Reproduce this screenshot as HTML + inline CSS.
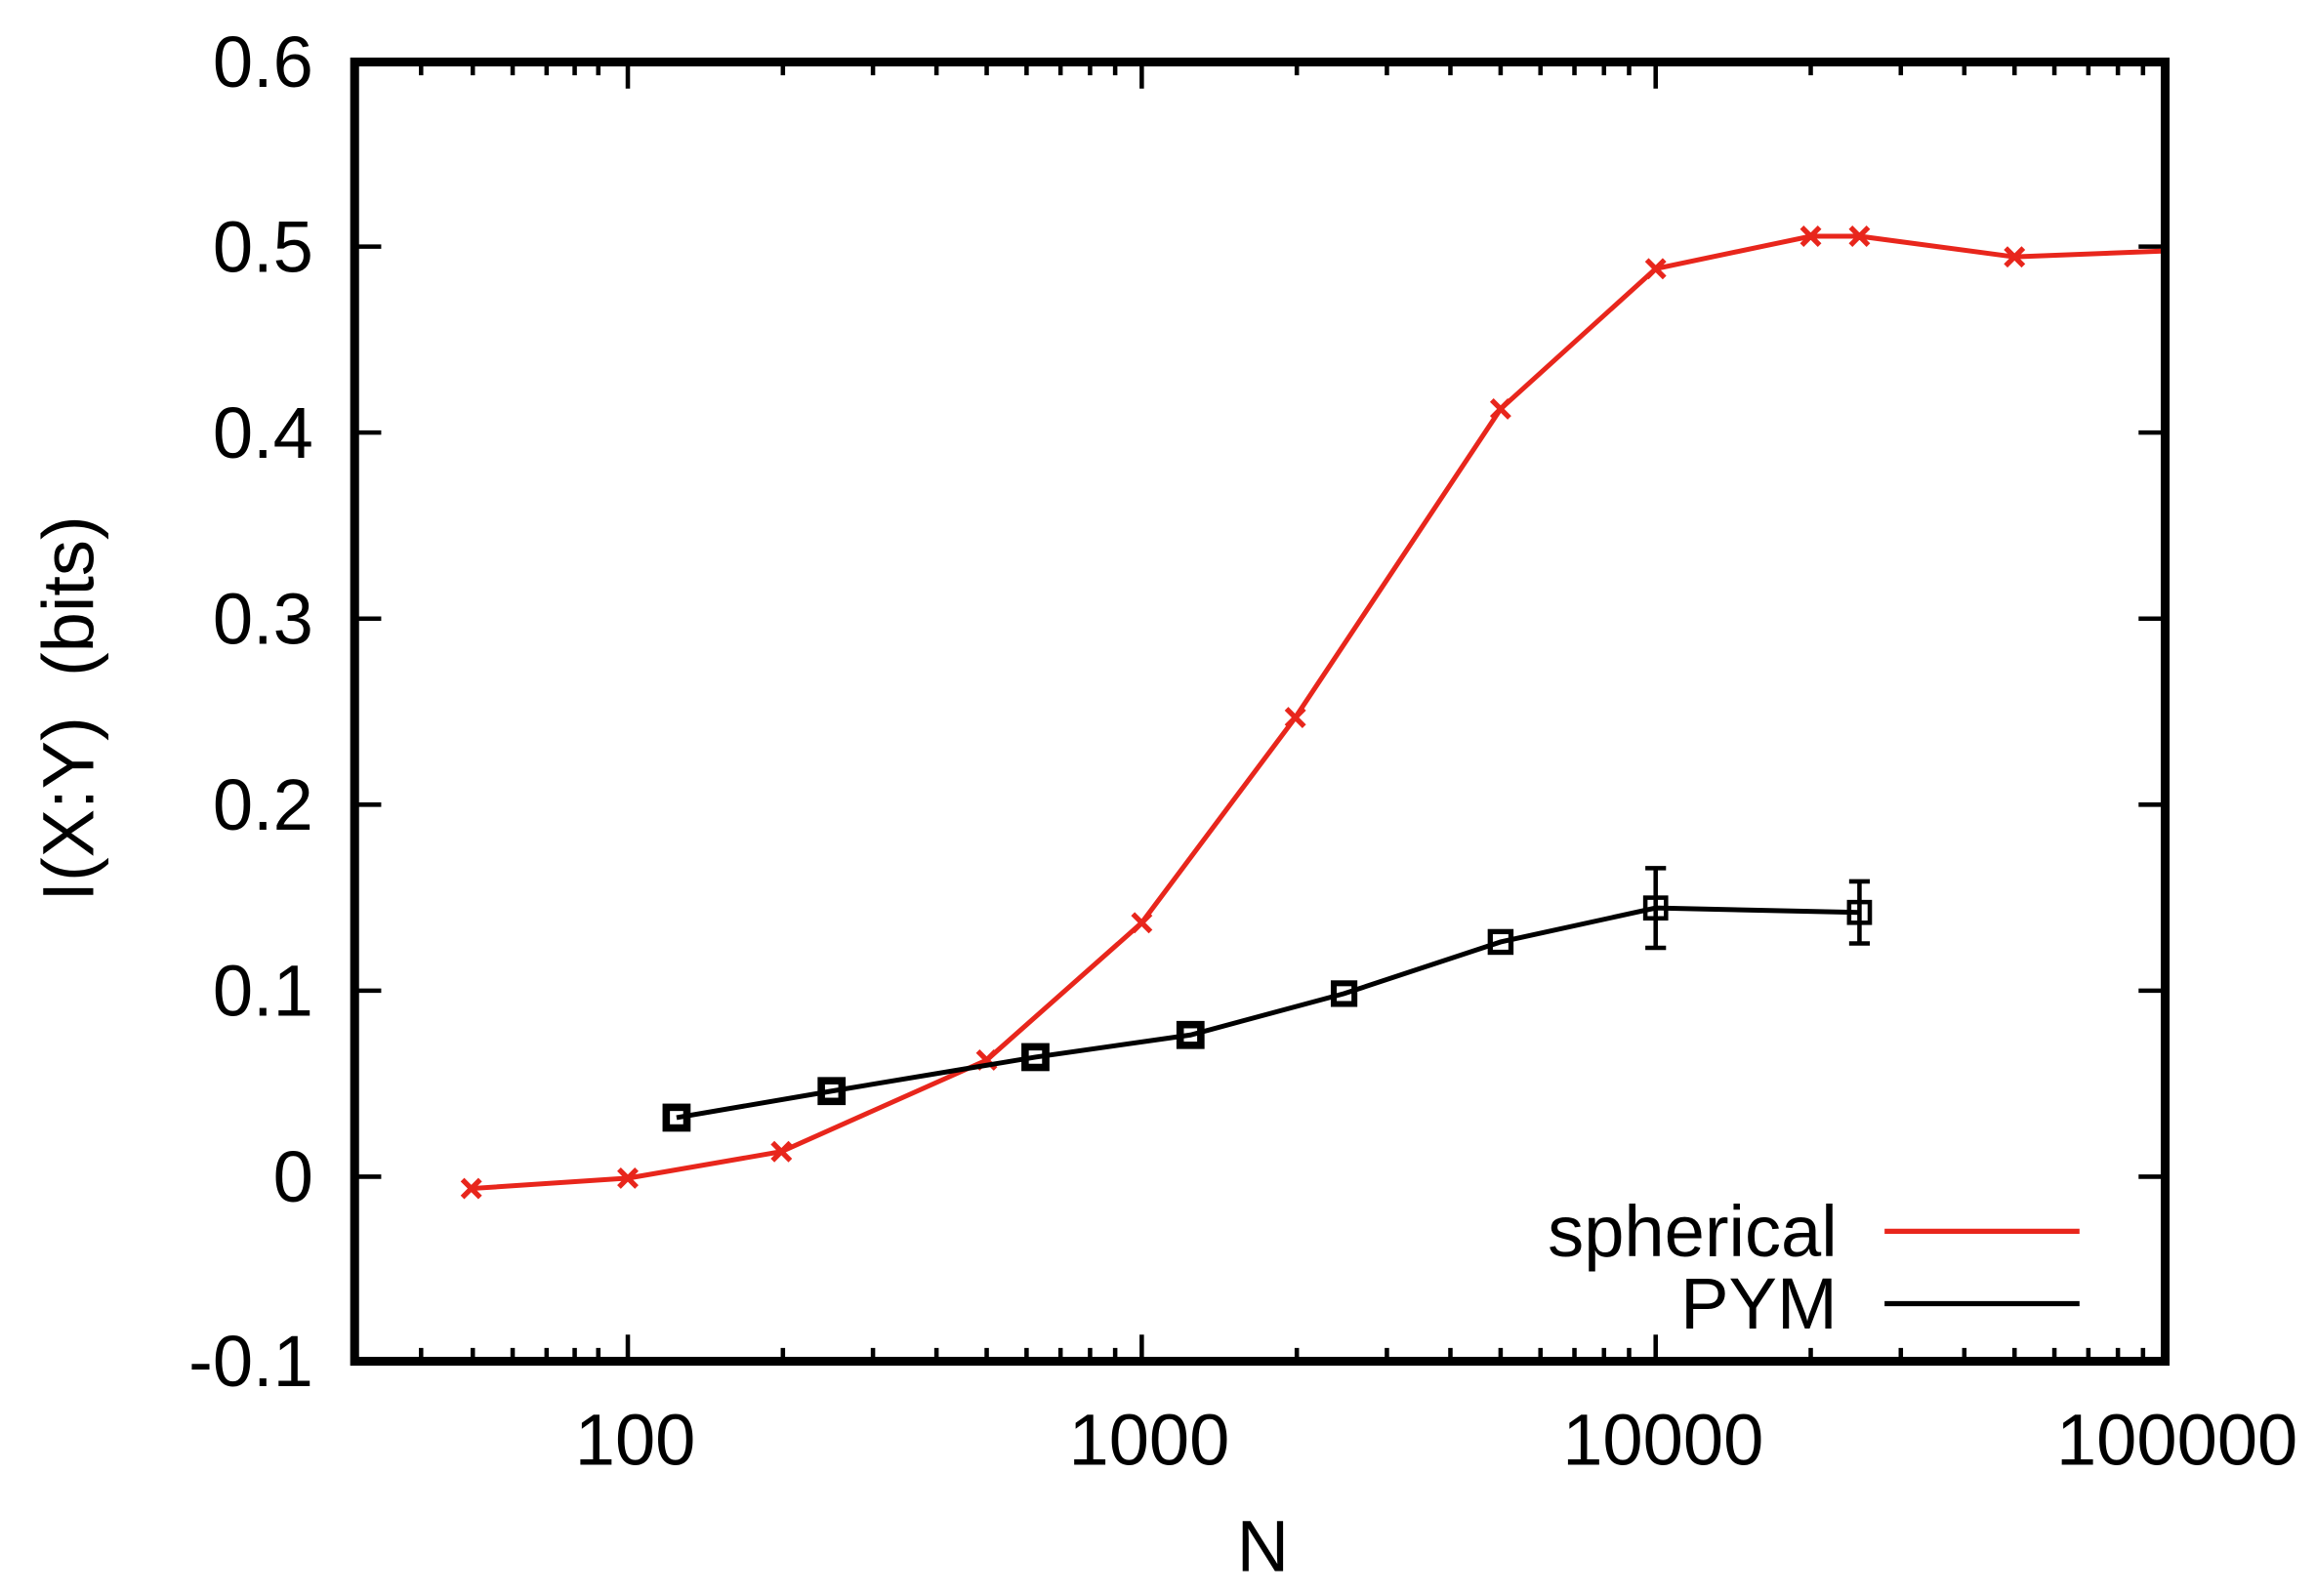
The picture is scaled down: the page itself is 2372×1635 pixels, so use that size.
<!DOCTYPE html>
<html><head><style>html,body{margin:0;padding:0;background:#fff}svg{display:block}</style></head><body>
<svg width="2372" height="1635" viewBox="0 0 1568 1081" xmlns="http://www.w3.org/2000/svg" font-family="Liberation Sans, sans-serif">
<rect width="1568" height="1081" fill="#fff"/>
<g stroke="#000" stroke-width="3">
<path d="M240 167h18M240 293h18M240 419h18M240 545h18M240 671h18M240 797h18M1466 167h-18M1466 293h-18M1466 419h-18M1466 545h-18M1466 671h-18M1466 797h-18"/>
<path d="M425 922v-18M773 922v-18M1121 922v-18M425 42v18M773 42v18M1121 42v18"/>
<path d="M285 922v-9M320 922v-9M347 922v-9M370 922v-9M389 922v-9M405 922v-9M530 922v-9M591 922v-9M634 922v-9M668 922v-9M695 922v-9M718 922v-9M738 922v-9M755 922v-9M878 922v-9M939 922v-9M982 922v-9M1016 922v-9M1043 922v-9M1066 922v-9M1086 922v-9M1103 922v-9M1226 922v-9M1287 922v-9M1330 922v-9M1364 922v-9M1391 922v-9M1414 922v-9M1434 922v-9M1451 922v-9"/>
<path d="M285 42v9M320 42v9M347 42v9M370 42v9M389 42v9M405 42v9M530 42v9M591 42v9M634 42v9M668 42v9M695 42v9M718 42v9M738 42v9M755 42v9M878 42v9M939 42v9M982 42v9M1016 42v9M1043 42v9M1066 42v9M1086 42v9M1103 42v9M1226 42v9M1287 42v9M1330 42v9M1364 42v9M1391 42v9M1414 42v9M1434 42v9M1451 42v9"/>
</g>
<g font-size="49" text-anchor="end" fill="#000">
<text x="212" y="59">0.6</text><text x="212" y="184">0.5</text><text x="212" y="310">0.4</text><text x="212" y="436">0.3</text><text x="212" y="562">0.2</text><text x="212" y="688">0.1</text><text x="212" y="814">0</text><text x="212" y="939">-0.1</text>
</g>
<g font-size="49" text-anchor="middle" fill="#000">
<text x="430" y="992">100</text><text x="778" y="992">1000</text><text x="1126" y="992">10000</text><text x="1474" y="992">100000</text>
<text x="855" y="1064">N</text>
<text transform="translate(63,480) rotate(-90)" xml:space="preserve">I(X:Y)  (bits)</text>
</g>
<polyline fill="none" stroke="#e8261c" stroke-width="3.3" points="319,805 425,798 529,780 668,718 773,625 877,486 1016,277 1121,182 1226,160 1259,160 1364,174 1466,170"/>
<g stroke="#e8261c" stroke-width="3.5">
<path d="M313 799l12 12M325 799l-12 12M419 792l12 12M431 792l-12 12M523 774l12 12M535 774l-12 12M662 712l12 12M674 712l-12 12M767 619l12 12M779 619l-12 12M871 480l12 12M883 480l-12 12M1010 271l12 12M1022 271l-12 12M1115 176l12 12M1127 176l-12 12M1220 154l12 12M1232 154l-12 12M1253 154l12 12M1265 154l-12 12M1358 168l12 12M1370 168l-12 12"/>
</g>
<polyline fill="none" stroke="#000" stroke-width="3.3" points="458,757 563,739 701,716 806,701 910,673 1016,638 1121,615 1259,618"/>
<g stroke="#000" stroke-width="3" fill="none">
<path d="M1121 588v54M1114 588h14M1114 642h14M1259 597v42M1252 597h14M1252 639h14"/>
<rect x="451" y="750" width="14" height="14" stroke-width="5"/>
<rect x="556" y="732" width="14" height="14" stroke-width="5"/>
<rect x="694" y="709" width="14" height="14" stroke-width="5"/>
<rect x="799" y="694" width="14" height="14" stroke-width="5"/>
<rect x="903" y="666" width="14" height="14" stroke-width="4"/>
<rect x="1009" y="631" width="14" height="14" stroke-width="3.5"/>
<rect x="1114" y="608" width="14" height="14"/>
<rect x="1252" y="611" width="14" height="14"/>
</g>
<g font-size="49" text-anchor="end" fill="#000">
<text x="1244" y="851">spherical</text><text x="1244" y="900">PYM</text>
</g>
<path d="M1276 834h132" stroke="#e8261c" stroke-width="3.5"/>
<path d="M1276 883h132" stroke="#000" stroke-width="3.5"/>
<rect x="240" y="42" width="1226" height="880" fill="none" stroke="#000" stroke-width="6"/>
</svg>
</body></html>
